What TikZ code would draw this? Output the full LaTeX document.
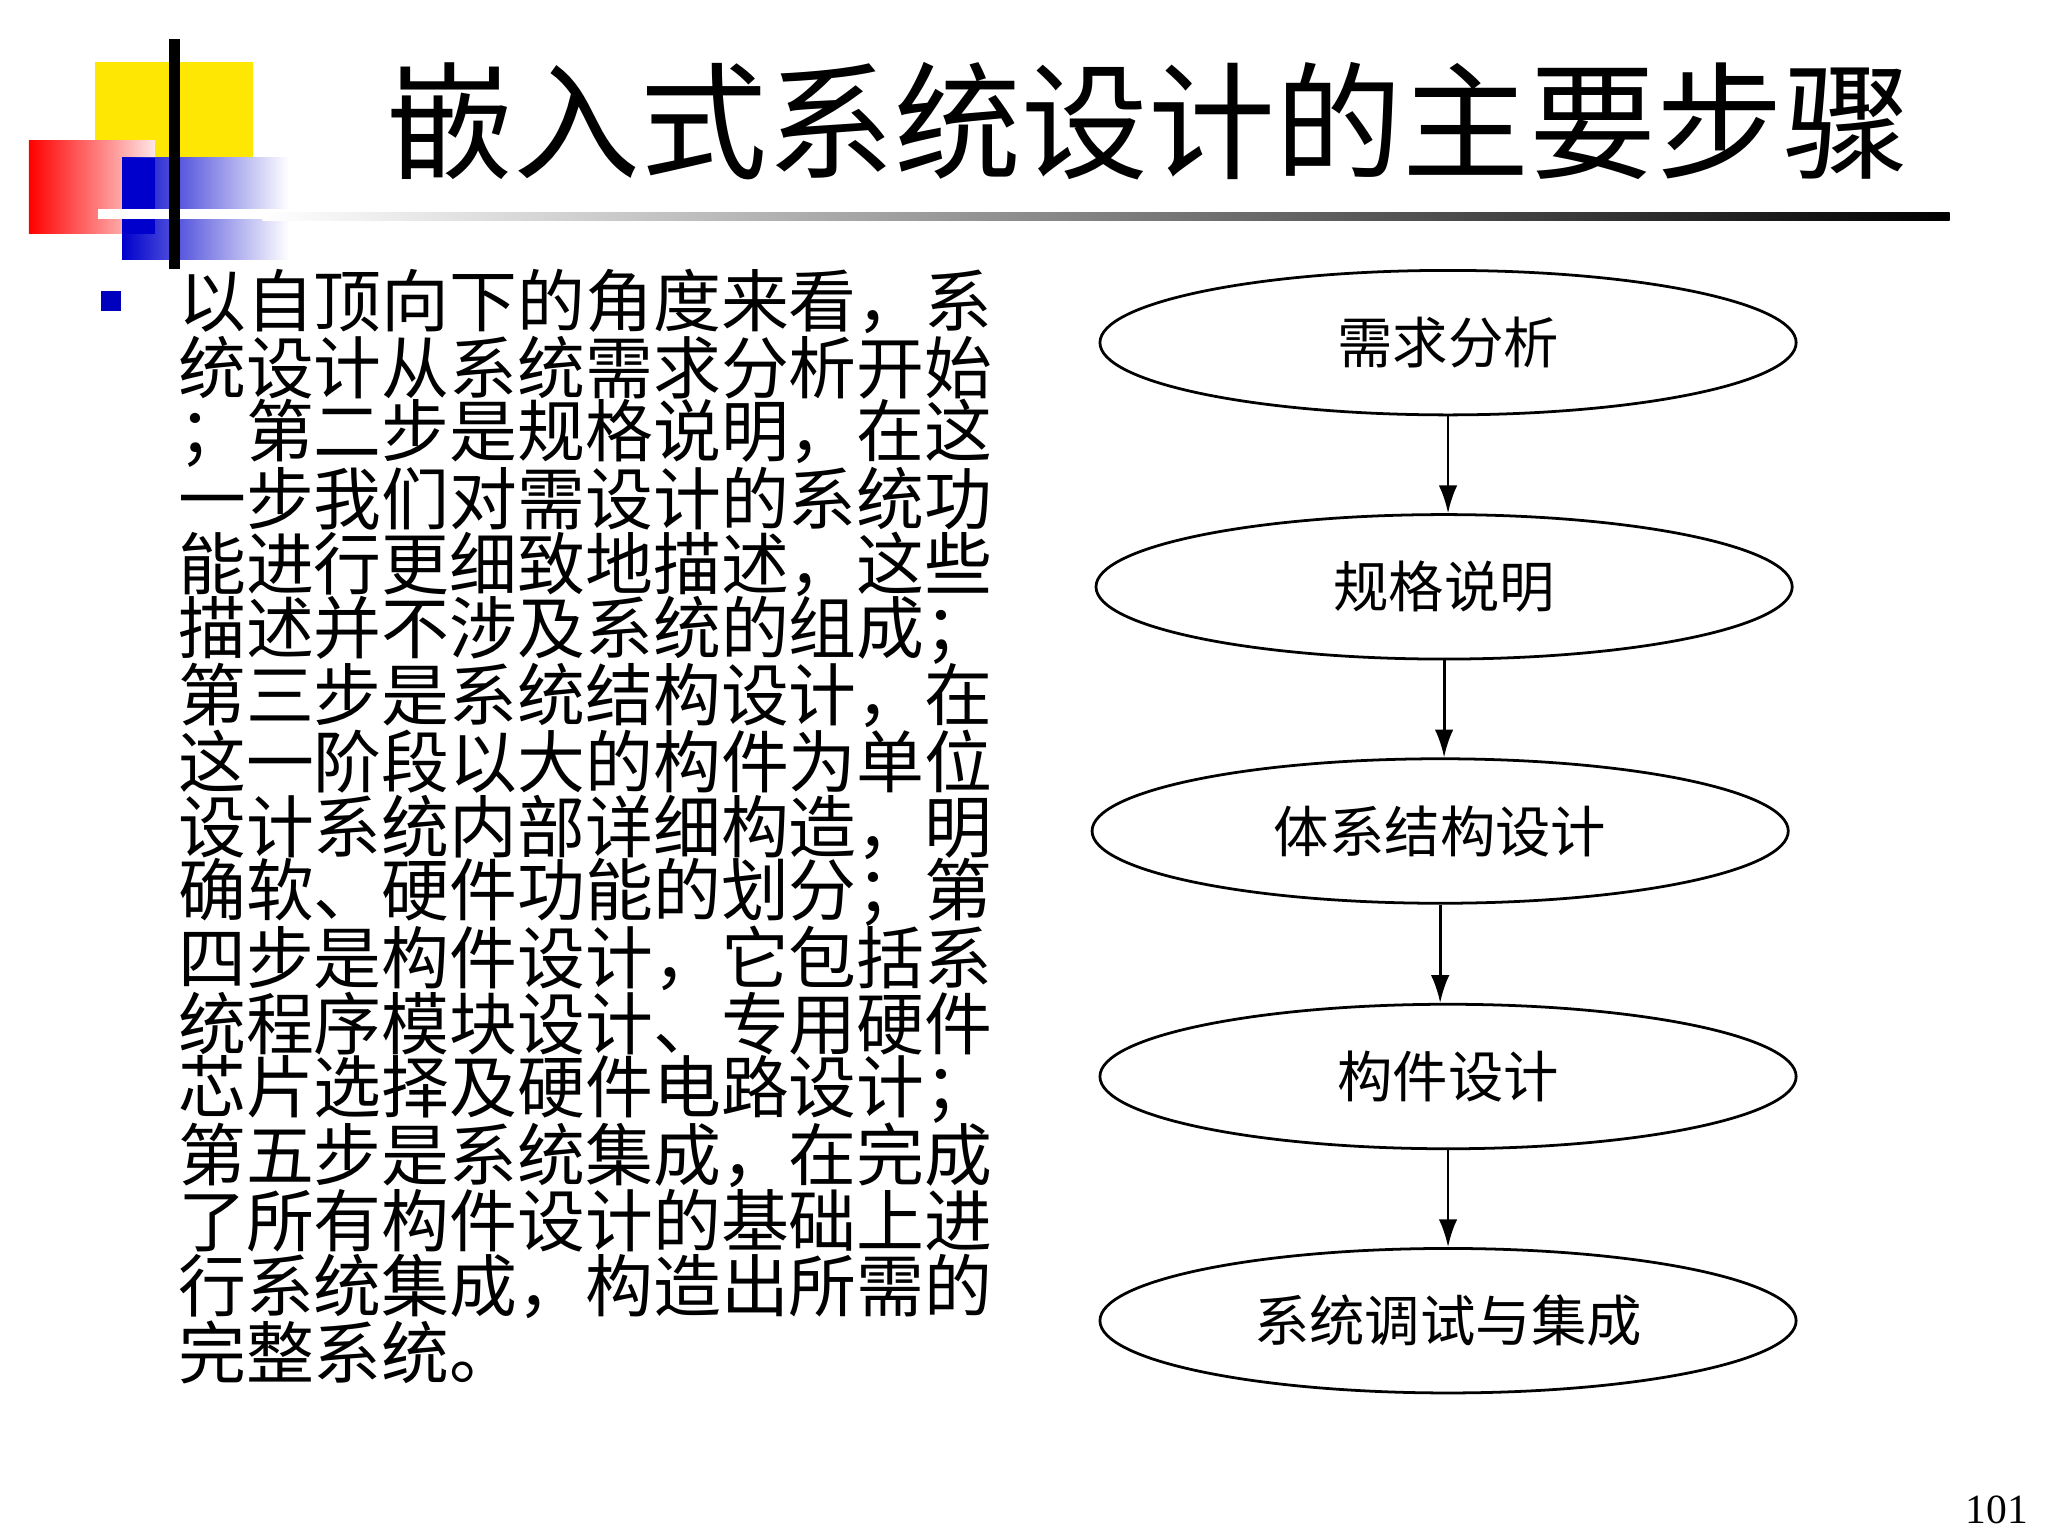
\documentclass[tikz,border=0pt]{standalone}
\usepackage{fontspec}
\newfontfamily\cjk{Noto Sans CJK SC}
\setmainfont{Liberation Serif}
\usetikzlibrary{shapes.geometric,arrows.meta}
\begin{document}
\begin{tikzpicture}[x=0.01cm,y=-0.01cm,
  stepell/.style={draw,ellipse,minimum width=5.3cm,minimum height=1.1cm,inner sep=0pt,font=\cjk\fontsize{12}{14}\selectfont,line width=0.6pt},
  arr/.style={-{Latex[length=6pt,width=4pt]},line width=0.6pt},
  body/.style={anchor=west,inner sep=0pt,font=\cjk\fontsize{14.7}{16}\selectfont}]
\useasboundingbox[fill=white] (0,0) rectangle (1560,1170);
% logo
\fill[yellow!90!orange] (72,47) rectangle (193,120);
\shade[left color=red, right color=red!10] (22,107) rectangle (118,178);
\shade[left color=blue!80!black, right color=white] (93,120) rectangle (220,198);
\fill[blue!80!black] (93,120) rectangle (118,178);
\draw[white,line width=2pt] (75,163) -- (220,163);
\draw[black,line width=2.5pt] (133,30) -- (133,205);
\shade[left color=white, right color=black] (200,162) rectangle (1485,168);
% title
\node[inner sep=0pt,font=\cjk\fontsize{27.5}{30}\selectfont] (title) at (875,92) {嵌入式系统设计的主要步骤};
% bullet
\fill[blue!75!black] (77,222) rectangle (92,237);
\foreach \t [count=\i] in {以自顶向下的角度来看，系,统设计从系统需求分析开始,；第二步是规格说明，在这,一步我们对需设计的系统功,能进行更细致地描述，这些,描述并不涉及系统的组成；,第三步是系统结构设计，在,这一阶段以大的构件为单位,设计系统内部详细构造，明,确软、硬件功能的划分；第,四步是构件设计，它包括系,统程序模块设计、专用硬件,芯片选择及硬件电路设计；,第五步是系统集成，在完成,了所有构件设计的基础上进,行系统集成，构造出所需的,完整系统。}
  \node[body] (l\i) at (135,{230+50*(\i-1)}) {\t};
% flow
\node[stepell] (e1) at (1103,261) {需求分析};
\node[stepell] (e2) at (1100,447) {规格说明};
\node[stepell] (e3) at (1097,633) {体系结构设计};
\node[stepell] (e4) at (1103,820) {构件设计};
\node[stepell] (e5) at (1103,1006) {系统调试与集成};
\draw[arr] (e1.south) -- (e1.south |- e2.north);
\draw[arr] (e2.south) -- (e2.south |- e3.north);
\draw[arr] (e3.south) -- (e3.south |- e4.north);
\draw[arr] (e4.south) -- (e4.south |- e5.north);
\node[font=\fontsize{9}{10}\selectfont,inner sep=0pt] (pg) at (1521,1150) {101};
\end{tikzpicture}
\end{document}
